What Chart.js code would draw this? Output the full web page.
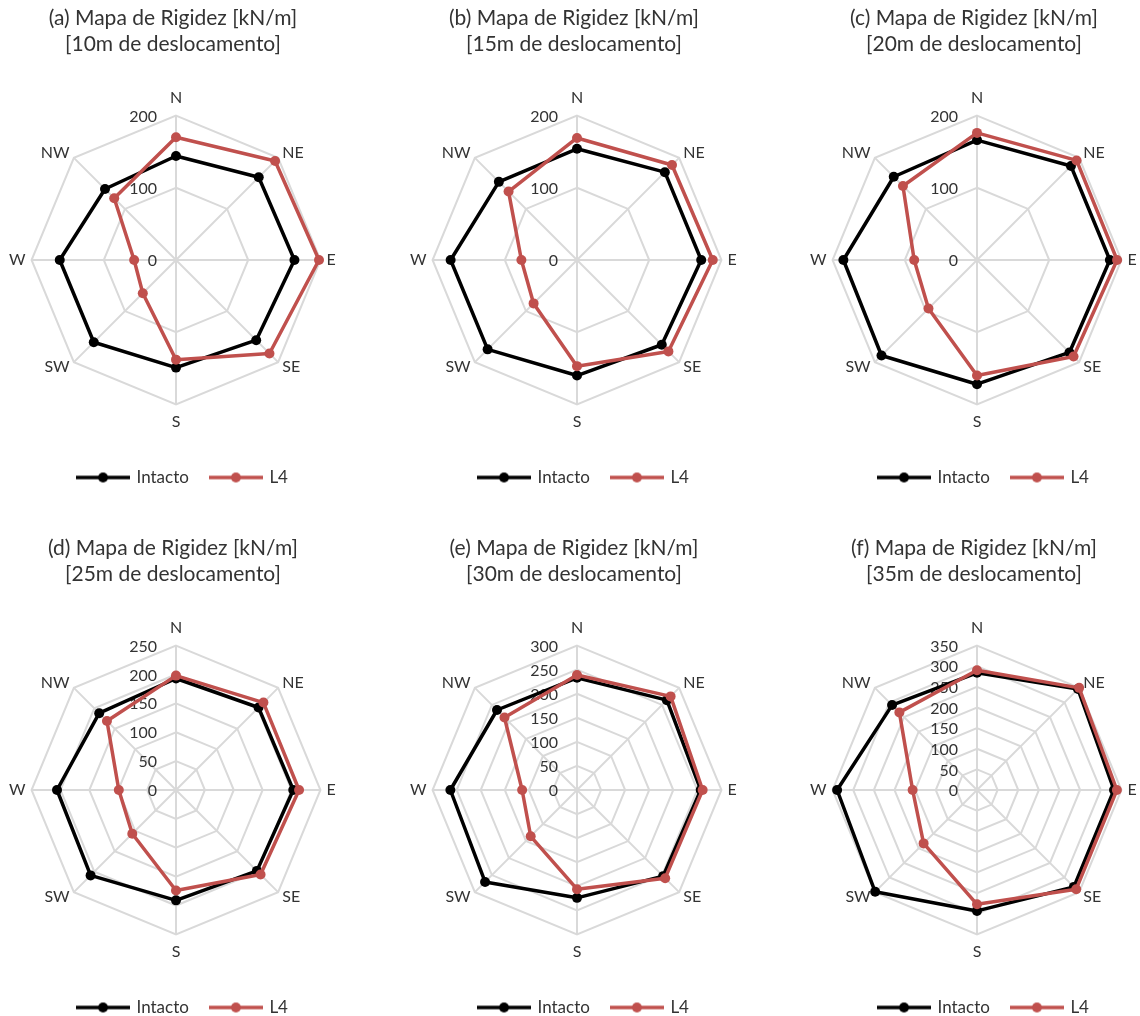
<!DOCTYPE html>
<html>
<head>
<meta charset="utf-8">
<title>Mapa de Rigidez</title>
<script src="https://cdn.jsdelivr.net/npm/chart.js@4.4.1/dist/chart.umd.min.js"></script>
<style>
  html, body { margin: 0; padding: 0; background: #fff; width: 1140px; height: 1016px; overflow: hidden; }
  .panel { position: absolute; width: 344px; height: 496px; }
</style>
</head>
<body>
<div class="panel" style="left:0px;top:0px"><canvas id="chart0" width="344" height="496"></canvas></div>
<div class="panel" style="left:401px;top:0px"><canvas id="chart1" width="344" height="496"></canvas></div>
<div class="panel" style="left:801px;top:0px"><canvas id="chart2" width="344" height="496"></canvas></div>
<div class="panel" style="left:0px;top:530px"><canvas id="chart3" width="344" height="496"></canvas></div>
<div class="panel" style="left:401px;top:530px"><canvas id="chart4" width="344" height="496"></canvas></div>
<div class="panel" style="left:801px;top:530px"><canvas id="chart5" width="344" height="496"></canvas></div>

<script>
// categories (clockwise from north)
const directions = ['N', 'NE', 'E', 'SE', 'S', 'SW', 'W', 'NW'];

// panel titles
const titleLines = [
    ['(a) Mapa de Rigidez [kN/m]', '[10m de deslocamento]'],
    ['(b) Mapa de Rigidez [kN/m]', '[15m de deslocamento]'],
    ['(c) Mapa de Rigidez [kN/m]', '[20m de deslocamento]'],
    ['(d) Mapa de Rigidez [kN/m]', '[25m de deslocamento]'],
    ['(e) Mapa de Rigidez [kN/m]', '[30m de deslocamento]'],
    ['(f) Mapa de Rigidez [kN/m]', '[35m de deslocamento]']
];

// stiffness values, kN/m
const intacto10 = [144, 162, 164, 157, 149, 161, 161, 139];
const l4_10     = [170, 194, 198, 183, 138, 65, 58, 121];
const intacto15 = [154, 172, 172, 166, 160, 175, 175, 153];
const l4_15     = [169, 186, 188, 179, 147, 85, 77, 134];
const intacto20 = [166, 184, 184, 181, 172, 187, 185, 163];
const l4_20     = [176, 195, 194, 189, 160, 95, 87, 145];
const intacto25 = [193, 202, 203, 198, 191, 209, 206, 188];
const l4_25     = [198, 214, 213, 207, 174, 107, 99, 169];
const intacto30 = [233, 264, 257, 253, 224, 270, 263, 235];
const l4_30     = [239, 275, 261, 259, 206, 136, 114, 213];
const intacto35 = [284, 346, 332, 332, 293, 349, 339, 291];
const l4_35     = [290, 350, 339, 340, 277, 183, 156, 266];

const intactoSeries = [intacto10, intacto15, intacto20, intacto25, intacto30, intacto35];
const l4Series = [l4_10, l4_15, l4_20, l4_25, l4_30, l4_35];

// axis ticks
const axisMax = [200, 200, 200, 250, 300, 350];
const axisStep = [100, 100, 100, 50, 50, 50];

const textColor = '#333333';
const gridColor = '#D9D9D9';
const fontFamily = 'Lato, Carlito, "Open Sans", sans-serif';

// legend marker: a short line with a dot in the middle
function legendIcon(color) {
    var c = document.createElement('canvas');
    c.width = 54;
    c.height = 12;
    var g = c.getContext('2d');
    g.strokeStyle = color;
    g.lineWidth = 3.5;
    g.beginPath();
    g.moveTo(0, 6);
    g.lineTo(54, 6);
    g.stroke();
    g.fillStyle = color;
    g.beginPath();
    g.arc(27, 6, 5, 0, Math.PI * 2);
    g.fill();
    return c;
}

// tick values written left of the vertical axis, under the series
const tickLabelsPlugin = {
    id: 'tickLabels',
    beforeDatasetsDraw(chart) {
        var scale = chart.scales.r;
        var ctx = chart.ctx;
        ctx.save();
        ctx.font = '16px ' + fontFamily;
        ctx.fillStyle = textColor;
        ctx.textAlign = 'right';
        ctx.textBaseline = 'middle';
        scale.ticks.forEach(function(tick) {
            var d = scale.getDistanceFromCenterForValue(tick.value);
            ctx.fillText(tick.label, scale.xCenter - 19, scale.yCenter - d + 1);
        });
        ctx.restore();
    }
};

// Excel centres the legend a little right of the plot
const legendShiftPlugin = {
    id: 'legendShift',
    afterLayout(chart) {
        chart.legend.left += 10;
        chart.legend.right += 10;
    }
};

function buildChart(i) {
    var ctx = document.getElementById('chart' + i).getContext('2d');
    return new Chart(ctx, {
        type: 'radar',
        data: {
            labels: directions,
            datasets: [{
                label: 'Intacto',
                data: intactoSeries[i],
                borderColor: '#000000',
                backgroundColor: '#000000',
                pointBackgroundColor: '#000000',
                pointBorderColor: '#000000',
                borderWidth: 3.5,
                borderJoinStyle: 'round',
                pointRadius: 5,
                pointBorderWidth: 0,
                fill: false,
                order: 1
            }, {
                label: 'L4',
                data: l4Series[i],
                borderColor: '#C0504D',
                backgroundColor: '#C0504D',
                pointBackgroundColor: '#C0504D',
                pointBorderColor: '#C0504D',
                borderWidth: 3.5,
                borderJoinStyle: 'round',
                pointRadius: 5,
                pointBorderWidth: 0,
                fill: false,
                order: 0
            }]
        },
        options: {
            responsive: false,
            animation: false,
            layout: { padding: { left: 6, right: 4, top: 0, bottom: 0 } },
            plugins: {
                title: {
                    display: true,
                    text: titleLines[i],
                    color: textColor,
                    font: { family: fontFamily, size: 21, weight: 'normal', lineHeight: 26 / 21 },
                    padding: { top: 5, bottom: 16 }
                },
                legend: {
                    position: 'bottom',
                    labels: {
                        usePointStyle: true,
                        pointStyleWidth: 50,
                        padding: 22,
                        color: textColor,
                        font: { family: fontFamily, size: 17 },
                        generateLabels: function(chart) {
                            return chart.data.datasets.map(function(ds, k) {
                                return {
                                    text: ds.label,
                                    fillStyle: ds.borderColor,
                                    strokeStyle: ds.borderColor,
                                    fontColor: textColor,
                                    lineWidth: 0,
                                    pointStyle: legendIcon(ds.borderColor),
                                    hidden: false,
                                    datasetIndex: k
                                };
                            });
                        }
                    }
                },
                tooltip: { enabled: false }
            },
            scales: {
                r: {
                    min: 0,
                    max: axisMax[i],
                    ticks: { stepSize: axisStep[i], display: false },
                    grid: { color: gridColor, lineWidth: 2 },
                    angleLines: { color: gridColor, lineWidth: 2 },
                    pointLabels: {
                        color: textColor,
                        font: function(c) {
                            // diagonal labels are centred on their anchor point
                            return { family: fontFamily, size: 16, lineHeight: c.index % 2 === 1 ? '1px' : 1.2 };
                        },
                        padding: function(c) {
                            return (c.index === 0 || c.index === 4) ? 8 : 6;
                        }
                    }
                }
            }
        },
        plugins: [tickLabelsPlugin, legendShiftPlugin]
    });
}

for (var i = 0; i < 6; i++) {
    buildChart(i);
}
</script>
</body>
</html>
